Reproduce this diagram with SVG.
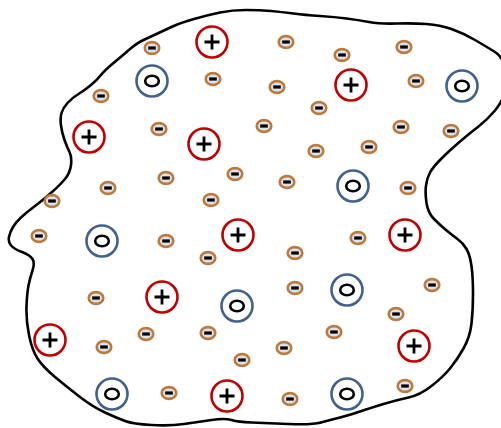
<svg xmlns="http://www.w3.org/2000/svg" xmlns:xlink="http://www.w3.org/1999/xlink" width="501" height="428" viewBox="0 0 501 428">
<style>
.blob{fill:none;stroke:#000;stroke-width:2.6;stroke-linejoin:round;stroke-linecap:round}
.pos{fill:#fff;stroke:#c00000;stroke-width:2.6}
.neu{fill:#fff;stroke:#41618f;stroke-width:2.6}
.neuin{fill:none;stroke:#000;stroke-width:2.6}
.neg{fill:#dce3ed;stroke:#bd7a3c;stroke-width:2.6}
.sym{stroke:#000;stroke-width:2.8;stroke-linecap:butt}
</style>
<defs>
<g id="plus"><circle class="pos" r="15.5"/><path class="sym" d="M-7.5,0H7.5M0,-7.5V7.5"/></g>
<g id="neutral"><circle class="neu" r="15.5"/><ellipse class="neuin" rx="6.8" ry="5.2"/></g>
<g id="minus"><ellipse class="neg" rx="7.3" ry="5.9"/><path d="M-3.8,0H3.8" stroke="#000" stroke-width="3.2"/></g>
</defs>
<rect width="501" height="428" fill="#fff"/>
<g id="connectors">
<path class="blob" d="M143.5,40 Q150,37 157.5,33.5 Q165,30 172.5,26.5 Q180,23 194,19 Q208,15 220,12.5 Q232,10 246,10 Q260,10 271,11 Q282,12 293.5,13.5 Q305,15 320,16 Q335,17 346.5,18.5 Q358,20 369,22 Q380,24 396.5,23.5 Q413,23 426.5,24 Q440,25 451.5,29 Q463,33 475,40 Q487,47 495,52 Q503,57 505,68.5 Q507,80 505,90.5 Q503,101 495,110.5 Q487,120 478.5,126.5 Q470,133 460,141.5 Q450,150 441.5,158.5 Q433,167 430,172.5 Q427,178 426,185.5 Q425,193 426.5,203 Q428,213 434,219 Q440,225 446,230 Q452,235 457.5,239 Q463,243 466.5,249 Q470,255 471.5,266 Q473,277 473,293.5 Q473,310 471.5,323.5 Q470,337 463.5,348.5 Q457,360 450,368.5 Q443,377 431.5,386 Q420,395 408.5,397.5 Q397,400 383.5,404 Q370,408 360,411.5 Q350,415 340,417.5 Q330,420 321,422.5 Q312,425 288.5,424 Q265,423 251.5,422.5 Q238,422 231.5,420 Q225,418 211.5,420 Q198,422 184,424 Q170,426 151.5,425 Q133,424 125,421 Q117,418 105,412.5 Q93,407 80,397 Q67,387 55,377 Q43,367 37.5,358.5 Q32,350 29,335 Q26,320 26.5,306.5 Q27,293 28.5,285.5 Q30,278 32.5,270.5 Q35,263 32.5,259 Q30,255 22,252 Q14,249 11,245.5 Q8,242 9,237 Q10,232 13,227 Q16,222 21.5,217 Q27,212 35,206 Q43,200 51.5,192.5 Q60,185 65,179 Q70,173 71,165 Q72,157 69.5,152 Q67,147 64.5,140 Q62,133 61,125.5 Q60,118 61.5,113 Q63,108 67.5,103 Q72,98 78.5,94 Q85,90 91,85 Q97,80 101,75 Q105,70 113.5,63 Q122,56 129.5,49.5 Q137,43 143.5,40 Z"/>
</g>
<g id="cations">
<g id="c1" transform="translate(212,42)"><use xlink:href="#plus"/></g>
<g id="c2" transform="translate(351,85)"><use xlink:href="#plus"/></g>
<g id="c3" transform="translate(89,137)"><use xlink:href="#plus"/></g>
<g id="c4" transform="translate(204,144)"><use xlink:href="#plus"/></g>
<g id="c5" transform="translate(238,235)"><use xlink:href="#plus"/></g>
<g id="c6" transform="translate(405,235)"><use xlink:href="#plus"/></g>
<g id="c7" transform="translate(162,297)"><use xlink:href="#plus"/></g>
<g id="c8" transform="translate(50,340)"><use xlink:href="#plus"/></g>
<g id="c9" transform="translate(414,346)"><use xlink:href="#plus"/></g>
<g id="c10" transform="translate(227,396)"><use xlink:href="#plus"/></g>
</g>
<g id="neutrals">
<g id="n1" transform="translate(152,81)"><use xlink:href="#neutral"/></g>
<g id="n2" transform="translate(462,86)"><use xlink:href="#neutral"/></g>
<g id="n3" transform="translate(353,186)"><use xlink:href="#neutral"/></g>
<g id="n4" transform="translate(102,241)"><use xlink:href="#neutral"/></g>
<g id="n5" transform="translate(237,306)"><use xlink:href="#neutral"/></g>
<g id="n6" transform="translate(347,290)"><use xlink:href="#neutral"/></g>
<g id="n7" transform="translate(112,394)"><use xlink:href="#neutral"/></g>
<g id="n8" transform="translate(347,394)"><use xlink:href="#neutral"/></g>
</g>
<g id="anions">
<g id="a1" transform="translate(152,48)"><use xlink:href="#minus"/></g>
<g id="a2" transform="translate(286,42)"><use xlink:href="#minus"/></g>
<g id="a3" transform="translate(342,55)"><use xlink:href="#minus"/></g>
<g id="a4" transform="translate(404,47)"><use xlink:href="#minus"/></g>
<g id="a5" transform="translate(213,79)"><use xlink:href="#minus"/></g>
<g id="a6" transform="translate(277,87)"><use xlink:href="#minus"/></g>
<g id="a7" transform="translate(416,81)"><use xlink:href="#minus"/></g>
<g id="a8" transform="translate(101,96)"><use xlink:href="#minus"/></g>
<g id="a9" transform="translate(319,108)"><use xlink:href="#minus"/></g>
<g id="a10" transform="translate(159,129)"><use xlink:href="#minus"/></g>
<g id="a11" transform="translate(264,126)"><use xlink:href="#minus"/></g>
<g id="a12" transform="translate(401,127)"><use xlink:href="#minus"/></g>
<g id="a13" transform="translate(451,131)"><use xlink:href="#minus"/></g>
<g id="a14" transform="translate(316,151)"><use xlink:href="#minus"/></g>
<g id="a15" transform="translate(369,147)"><use xlink:href="#minus"/></g>
<g id="a16" transform="translate(166,178)"><use xlink:href="#minus"/></g>
<g id="a17" transform="translate(235,174)"><use xlink:href="#minus"/></g>
<g id="a18" transform="translate(287,182)"><use xlink:href="#minus"/></g>
<g id="a19" transform="translate(108,188)"><use xlink:href="#minus"/></g>
<g id="a20" transform="translate(408,188)"><use xlink:href="#minus"/></g>
<g id="a21" transform="translate(52,201)"><use xlink:href="#minus"/></g>
<g id="a22" transform="translate(211,200)"><use xlink:href="#minus"/></g>
<g id="a23" transform="translate(39,236)"><use xlink:href="#minus"/></g>
<g id="a24" transform="translate(166,241)"><use xlink:href="#minus"/></g>
<g id="a25" transform="translate(208,258)"><use xlink:href="#minus"/></g>
<g id="a26" transform="translate(295,253)"><use xlink:href="#minus"/></g>
<g id="a27" transform="translate(358,238)"><use xlink:href="#minus"/></g>
<g id="a28" transform="translate(96,298)"><use xlink:href="#minus"/></g>
<g id="a29" transform="translate(295,288)"><use xlink:href="#minus"/></g>
<g id="a30" transform="translate(432,285)"><use xlink:href="#minus"/></g>
<g id="a31" transform="translate(396,314)"><use xlink:href="#minus"/></g>
<g id="a32" transform="translate(146,334)"><use xlink:href="#minus"/></g>
<g id="a33" transform="translate(208,333)"><use xlink:href="#minus"/></g>
<g id="a34" transform="translate(334,332)"><use xlink:href="#minus"/></g>
<g id="a35" transform="translate(104,347)"><use xlink:href="#minus"/></g>
<g id="a36" transform="translate(242,360)"><use xlink:href="#minus"/></g>
<g id="a37" transform="translate(284,348)"><use xlink:href="#minus"/></g>
<g id="a38" transform="translate(169,393)"><use xlink:href="#minus"/></g>
<g id="a39" transform="translate(290,399)"><use xlink:href="#minus"/></g>
<g id="a40" transform="translate(405,386)"><use xlink:href="#minus"/></g>
</g>
</svg>
